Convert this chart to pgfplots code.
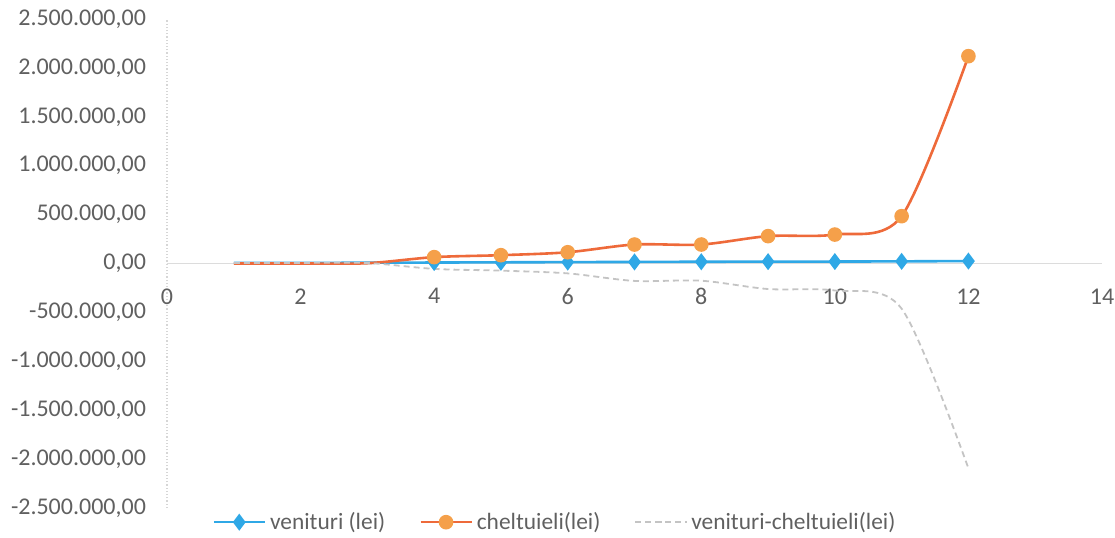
\documentclass[border=0pt]{standalone}
\usepackage{pgfplots}
\pgfplotsset{compat=1.18}
\usepackage{fontspec}
\setmainfont{Carlito}
\definecolor{serblue}{HTML}{2FA8E6}
\definecolor{serorange}{HTML}{EE6A3A}
\definecolor{serorangefill}{HTML}{F5A04A}
\definecolor{sergrey}{HTML}{C4C4C4}
\definecolor{txtgrey}{HTML}{606060}
\begin{document}
\begin{tikzpicture}
\begin{axis}[
  scale only axis, width=467.5pt, height=244.5pt,
  xmin=0, xmax=14, ymin=-2500000, ymax=2500000,
  xtick={0,2,...,14},
  ytick={-2500000,-2000000,-1500000,-1000000,-500000,0,500000,1000000,1500000,2000000,2500000},
  axis x line=middle, axis y line=left,
  hide obscured x ticks=false, hide obscured y ticks=false,
  x axis line style={-, draw=sergrey!60, line width=0.6pt},
  y axis line style={-, draw=sergrey!70, densely dotted, line width=0.6pt},
  major tick length=0pt,
  scaled y ticks=false,
  /pgf/number format/assume math mode=true,
  ticklabel style={font=\fontsize{12}{14}\selectfont, text=txtgrey},
  yticklabel style={xshift=-7pt, /pgf/number format/.cd, fixed, fixed zerofill, precision=2, 1000 sep={.}, use comma},
  xticklabel style={yshift=-9pt, /pgf/number format/.cd, fixed, precision=0},
  legend style={at={(0.416,-0.029)}, anchor=center, draw=none, fill=none,
    legend columns=3, font=\fontsize{11.7}{13}\selectfont, text=txtgrey,
    /tikz/every even column/.append style={column sep=15pt},
    /tikz/every odd column/.append style={column sep=0pt}},
  legend cell align=left,
  legend image code/.code={\draw[mark repeat=2,mark phase=2,#1] plot coordinates {(0pt,0pt)(12.75pt,0pt)(25.5pt,0pt)};},
]
\addplot[smooth, color=serblue, line width=1.3pt, mark=diamond*, mark size=3.2pt,
  mark options={fill=serblue, draw=serblue}, mark phase=4, mark repeat=1]
  coordinates {(1,5000) (2,6000) (3,8000) (4,10000) (5,12000) (6,14000) (7,16000) (8,18000) (9,19000) (10,20000) (11,22000) (12,25000)};
\addlegendentry{venituri (lei)}
\addplot[smooth, color=serorange, line width=1.3pt, mark=*, mark size=3pt,
  mark options={fill=serorangefill, draw=serorangefill}, mark phase=4, mark repeat=1]
  coordinates {(1,0) (2,0) (3,3000) (4,65000) (5,85000) (6,115000) (7,194000) (8,194000) (9,280000) (10,296000) (11,484000) (12,2120000)};
\addlegendentry{cheltuieli(lei)}
\addplot[smooth, color=sergrey, line width=0.9pt, densely dashed]
  coordinates {(1,5000) (2,6000) (3,5000) (4,-55000) (5,-73000) (6,-101000) (7,-178000) (8,-176000) (9,-261000) (10,-276000) (11,-462000) (12,-2095000)};
\addlegendentry{venituri-cheltuieli(lei)}
\end{axis}
\pgfresetboundingbox
\path[use as bounding box] ([xshift=-83.5pt,yshift=-14.5pt]current axis.south west) rectangle ([xshift=6.5pt,yshift=9.5pt]current axis.north east);
\end{tikzpicture}
\end{document}
